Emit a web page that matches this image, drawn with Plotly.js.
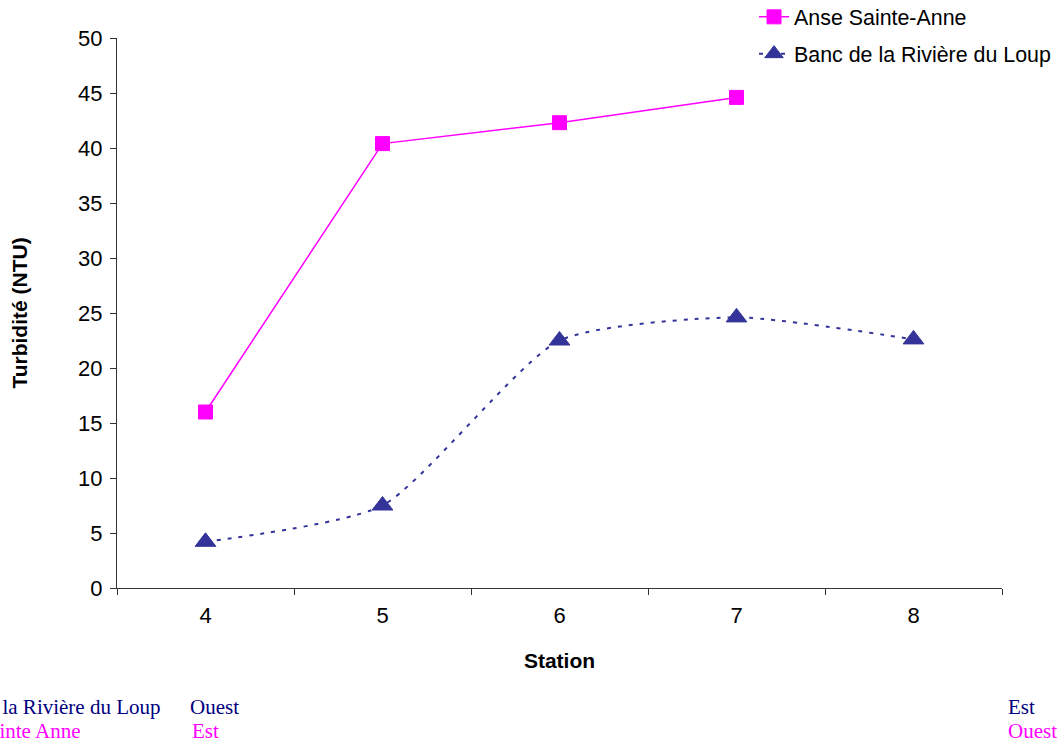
<!DOCTYPE html>
<html>
<head>
<meta charset="utf-8">
<script src="https://cdn.plot.ly/plotly-3.0.1.min.js"></script>
<style>html,body{margin:0;padding:0;background:#fff;}#chart{width:1057px;height:740px;}</style>
</head>
<body>
<div id="chart"></div>
<script>
const stations = ['4', '5', '6', '7', '8'];
const anseName = 'Anse Sainte-Anne';
const anseValues = [16.0, 40.4, 42.3, 44.6, null];
const bancName = 'Banc de la Rivière du Loup';
const bancValues = [4.2, 7.5, 22.5, 24.6, 22.6];
const yTicks = [0, 5, 10, 15, 20, 25, 30, 35, 40, 45, 50];

const traces = [
  {
    x: stations, y: anseValues, name: anseName, type: 'scatter', mode: 'lines+markers',
    legendgroup: 'a',
    line: {color: '#FF00FF', width: 1.5},
    marker: {symbol: 'square', size: 14, color: '#FF00FF', line: {color: '#FF00FF', width: 1}}
  },
  {
    x: stations, y: bancValues, name: bancName, type: 'scatter', mode: 'lines+markers',
    legendgroup: 'b',
    line: {color: '#333399', width: 2, dash: '4px,7px', shape: 'spline', smoothing: 0.6},
    marker: {symbol: 'triangle-up', size: 18, color: '#333399', line: {color: '#333399', width: 1}}
  }
];

const serif = 'Liberation Serif, Times New Roman, serif';
const ann = (txt, x, y, anchor, color) => ({
  text: txt, xref: 'paper', yref: 'paper', x: x, y: y, xanchor: anchor, yanchor: 'middle',
  showarrow: false, font: {family: serif, size: 21, color: color}
});

const layout = {
  width: 1057, height: 740,
  margin: {l: 117, r: 55, t: 38, b: 152, autoexpand: false},
  paper_bgcolor: '#fff', plot_bgcolor: '#fff',
  font: {family: 'Liberation Sans, Arial, sans-serif', size: 21, color: '#000'},
  showlegend: true,
  legend: {
    x: 0.7198, y: 1.0756, xanchor: 'left', yanchor: 'top',
    traceorder: 'grouped', tracegroupgap: 6,
    font: {family: 'Liberation Sans, Arial, sans-serif', size: 21.4, color: '#000'},
    bgcolor: 'rgba(0,0,0,0)'
  },
  xaxis: {
    type: 'category', categoryorder: 'array', categoryarray: stations,
    range: [-0.5, 4.5], tickson: 'boundaries',
    ticks: 'outside', ticklen: 6, tickcolor: '#333', tickwidth: 1,
    showline: true, linecolor: '#333', linewidth: 1, showgrid: false, zeroline: false,
    tickfont: {size: 22}, ticklabelstandoff: 8,
    title: {text: '<b>Station</b>', font: {size: 21}, standoff: 25},
    automargin: false, fixedrange: true
  },
  yaxis: {
    range: [0, 50], tickvals: yTicks,
    ticks: 'outside', ticklen: 6, tickcolor: '#333', tickwidth: 1,
    showline: true, linecolor: '#333', linewidth: 1, showgrid: false, zeroline: false,
    tickfont: {size: 22}, ticklabelstandoff: 3,
    title: {text: '<b>Turbidité (NTU)</b>', font: {size: 21}, standoff: 44},
    automargin: false, fixedrange: true
  },
  annotations: [
    ann(bancName, 0.052, -0.2164, 'right', '#000080'),
    ann('Ouest', 0.0802, -0.2164, 'left', '#000080'),
    ann('Est', 1.0045, -0.2164, 'left', '#000080'),
    ann('Anse Sainte Anne', -0.0395, -0.26, 'right', '#FF00FF'),
    ann('Est', 0.0825, -0.26, 'left', '#FF00FF'),
    ann('Ouest', 1.0045, -0.26, 'left', '#FF00FF')
  ]
};

Plotly.newPlot('chart', traces, layout, {displayModeBar: false, staticPlot: true});
</script>
</body>
</html>
